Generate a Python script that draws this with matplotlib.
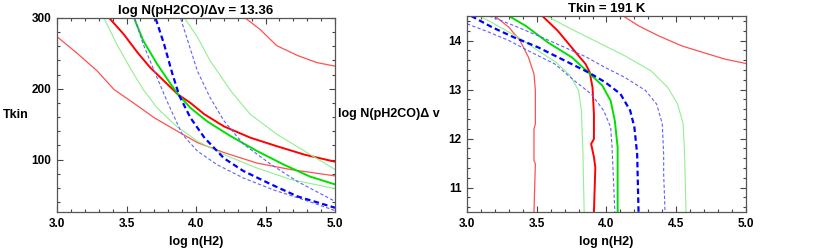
import matplotlib.pyplot as plt
from matplotlib.ticker import MultipleLocator

plt.rcParams['font.family'] = ['Liberation Sans', 'DejaVu Sans']
plt.rcParams['font.weight'] = 'bold'

# left panel: Tkin vs log n(H2) at log N/dv = 13.36
red_lo_x = [3.01, 3.14, 3.29, 3.41, 3.55, 3.70, 3.84, 4.01, 4.20, 4.44, 4.68, 5.0]
red_lo_y = [272, 251, 225, 199, 180, 159, 143, 124, 110, 95, 86, 77]
red_mid_x = [3.38, 3.48, 3.58, 3.67, 3.77, 3.87, 3.96, 4.06, 4.20, 4.39, 4.58, 4.78, 5.0]
red_mid_y = [299, 277, 251, 230, 211, 192, 180, 164, 147, 131, 119, 107, 97]
red_hi_x = [4.36, 4.46, 4.58, 4.73, 4.87, 5.0]
red_hi_y = [299, 284, 261, 247, 237, 232]
grn_x = [3.56, 3.62, 3.72, 3.82, 3.88, 3.96, 4.08, 4.25, 4.44, 4.63, 4.82, 5.0]
grn_y = [297, 268, 235, 206, 190, 173, 154, 133, 112, 93, 76, 65]
grn_lo_x = [3.34, 3.43, 3.53, 3.62, 3.72, 3.86, 4.01, 4.20, 4.44, 4.68, 5.0]
grn_lo_y = [299, 263, 228, 199, 173, 147, 126, 107, 88, 72, 59]
grn_hi_x = [3.92, 4.01, 4.10, 4.25, 4.39, 4.58, 4.78, 5.0]
grn_hi_y = [299, 273, 240, 197, 164, 136, 112, 86]
blu_x = [3.71, 3.77, 3.83, 3.88, 3.96, 4.06, 4.20, 4.34, 4.54, 4.73, 5.0]
blu_y = [299, 263, 221, 190, 159, 131, 102, 84, 65, 48, 32]
blu_lo_x = [3.56, 3.62, 3.70, 3.79, 3.90, 4.01, 4.15, 4.34, 4.56, 4.78, 5.0]
blu_lo_y = [299, 263, 225, 183, 136, 112, 93, 74, 57, 43, 28]
blu_hi_x = [3.89, 3.94, 4.01, 4.10, 4.20, 4.34, 4.54, 4.73, 5.0]
blu_hi_y = [299, 268, 225, 188, 155, 122, 93, 69, 41]

# right panel: log N/dv vs log n(H2) at Tkin = 191 K
r_red_lo_x = [3.20, 3.30, 3.38, 3.44, 3.48, 3.49, 3.49, 3.48, 3.48, 3.49, 3.48]
r_red_lo_y = [14.5, 14.27, 14.0, 13.66, 13.32, 12.98, 12.30, 12.19, 11.55, 11.48, 10.5]
r_red_mid_x = [3.54, 3.65, 3.77, 3.85, 3.88, 3.90, 3.91, 3.91, 3.89, 3.91, 3.92, 3.91]
r_red_mid_y = [14.5, 14.2, 13.79, 13.52, 13.35, 13.04, 12.5, 11.99, 11.89, 11.62, 11.41, 10.5]
r_red_hi_x = [4.12, 4.23, 4.37, 4.54, 4.71, 4.85, 5.0]
r_red_hi_y = [14.5, 14.30, 14.10, 13.89, 13.74, 13.62, 13.53]
r_grn_x = [3.30, 3.42, 3.58, 3.75, 3.87, 3.97, 4.03, 4.06, 4.08, 4.08]
r_grn_y = [14.5, 14.30, 13.96, 13.66, 13.35, 13.08, 12.77, 12.36, 11.82, 10.5]
r_grn_lo_x = [3.09, 3.22, 3.37, 3.51, 3.64, 3.74, 3.80, 3.82, 3.83, 3.84]
r_grn_lo_y = [14.5, 14.30, 14.06, 13.79, 13.55, 13.28, 12.98, 12.57, 11.82, 10.5]
r_grn_hi_x = [3.57, 3.75, 3.94, 4.13, 4.32, 4.44, 4.51, 4.55, 4.56, 4.57]
r_grn_hi_y = [14.5, 14.23, 13.96, 13.69, 13.38, 13.04, 12.70, 12.30, 11.68, 10.5]
r_blu_x = [3.03, 3.18, 3.34, 3.51, 3.70, 3.87, 3.99, 4.10, 4.17, 4.20, 4.22, 4.23]
r_blu_y = [14.5, 14.27, 14.06, 13.86, 13.59, 13.35, 13.15, 12.91, 12.57, 12.23, 11.68, 10.5]
r_blu_lo_x = [3.0, 3.13, 3.30, 3.46, 3.63, 3.77, 3.89, 3.98, 4.03, 4.04, 4.06]
r_blu_lo_y = [14.34, 14.2, 14.0, 13.76, 13.52, 13.18, 12.91, 12.57, 12.23, 11.82, 10.5]
r_blu_hi_x = [3.16, 3.34, 3.54, 3.70, 3.85, 3.99, 4.13, 4.28, 4.36, 4.40, 4.41, 4.41, 4.42]
r_blu_hi_y = [14.5, 14.30, 14.06, 13.86, 13.67, 13.45, 13.25, 12.98, 12.70, 12.30, 11.68, 11.28, 10.5]

RED, RED_L = '#ff0000', '#ff5050'
GRN, GRN_L = '#00e000', '#90f090'
BLU, BLU_L = '#0000ff', '#6060ff'

fig = plt.figure(figsize=(8.3, 2.5), dpi=100)
ax1 = fig.add_axes([0.0687, 0.152, 0.335, 0.776])
ax2 = fig.add_axes([0.5627, 0.152, 0.336, 0.784])


def draw(ax, sets):
    for x, y, c, lw, ls in sets:
        ax.plot(x, y, color=c, lw=lw, ls=ls)


draw(ax1, [
    (red_lo_x, red_lo_y, RED_L, 0.9, '-'),
    (red_mid_x, red_mid_y, RED, 1.4, '-'),
    (red_hi_x, red_hi_y, RED_L, 0.9, '-'),
    (grn_lo_x, grn_lo_y, GRN_L, 0.8, '-'),
    (grn_hi_x, grn_hi_y, GRN_L, 0.8, '-'),
    (grn_x, grn_y, GRN, 1.4, '-'),
    (blu_lo_x, blu_lo_y, BLU_L, 0.8, (0, (3, 2))),
    (blu_hi_x, blu_hi_y, BLU_L, 0.8, (0, (3, 2))),
    (blu_x, blu_y, BLU, 1.6, (0, (2.5, 1.5))),
])
draw(ax2, [
    (r_red_lo_x, r_red_lo_y, RED_L, 0.9, '-'),
    (r_red_mid_x, r_red_mid_y, RED, 1.4, '-'),
    (r_red_hi_x, r_red_hi_y, RED_L, 0.9, '-'),
    (r_grn_lo_x, r_grn_lo_y, GRN_L, 0.8, '-'),
    (r_grn_hi_x, r_grn_hi_y, GRN_L, 0.8, '-'),
    (r_grn_x, r_grn_y, GRN, 1.4, '-'),
    (r_blu_lo_x, r_blu_lo_y, BLU_L, 0.8, (0, (3, 2))),
    (r_blu_hi_x, r_blu_hi_y, BLU_L, 0.8, (0, (3, 2))),
    (r_blu_x, r_blu_y, BLU, 1.6, (0, (2.5, 1.5))),
])

ax1.set_xlim(3.0, 5.0)
ax1.set_ylim(26, 300)
ax1.yaxis.set_major_locator(MultipleLocator(100))
ax1.yaxis.set_minor_locator(MultipleLocator(20))
ax2.set_xlim(3.0, 5.0)
ax2.set_ylim(10.5, 14.5)
ax2.yaxis.set_major_locator(MultipleLocator(1))
ax2.yaxis.set_minor_locator(MultipleLocator(0.2))

for ax in (ax1, ax2):
    ax.xaxis.set_major_locator(MultipleLocator(0.5))
    ax.xaxis.set_minor_locator(MultipleLocator(0.1))
    ax.xaxis.set_major_formatter(plt.FormatStrFormatter('%.1f'))
    ax.tick_params(which='both', direction='in', top=True, right=True,
                   labelsize=8.5, width=0.8, color='#444444')
    ax.tick_params(which='major', length=4, pad=4)
    ax.tick_params(which='minor', length=2)
    for lab in ax.get_xticklabels() + ax.get_yticklabels():
        lab.set_fontweight('bold')
    for s in ax.spines.values():
        s.set_color('#555555')
        s.set_linewidth(0.9)
    ax.set_xlabel('log n(H2)', fontsize=9, fontweight='bold', labelpad=5)

ax1.set_title('log N(pH2CO)/\u0394v = 13.36', fontsize=9.5, fontweight='bold', pad=3)
ax2.set_title('Tkin = 191 K', fontsize=9.5, fontweight='bold', pad=3)
ax1.set_ylabel('Tkin', fontsize=9, fontweight='bold', rotation=0, labelpad=2,
               va='center', ha='right')
ax2.set_ylabel('log N(pH2CO)\u0394 v', fontsize=9, fontweight='bold', rotation=0,
               labelpad=6, va='center', ha='right')

fig.savefig('out.png', dpi=100)
